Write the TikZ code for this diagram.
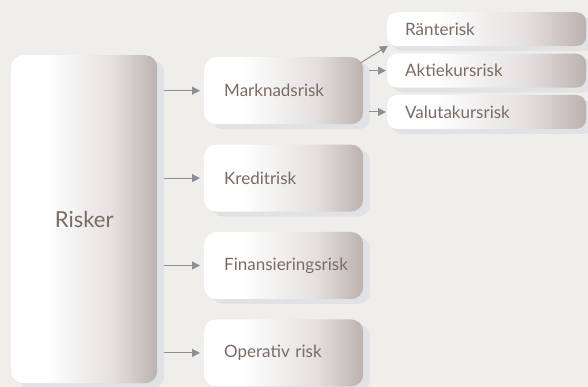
\documentclass[tikz,border=0pt]{standalone}
\usepackage{fontspec}
\setmainfont{Lato}
\definecolor{bgPage}{HTML}{EFEEEA}
\definecolor{boxDark}{HTML}{BCB2AF}
\definecolor{boxMid}{HTML}{E4E0DF}
\definecolor{shadowGray}{HTML}{E1E2E5}
\definecolor{textBrown}{HTML}{7B6B62}
\definecolor{arrowGray}{HTML}{8E8F95}
\usetikzlibrary{positioning, arrows.meta, shadows}
\pgfdeclarehorizontalshading{riskShade}{100bp}{color(0bp)=(white); color(25bp)=(white); color(37bp)=(white); color(60bp)=(boxMid); color(75bp)=(boxDark); color(100bp)=(boxDark)}

\begin{document}
\begin{tikzpicture}[x=1pt, y=1pt,
    riskbox/.style={shading=riskShade, rounded corners=12pt, text=textBrown,
      drop shadow={shadow xshift=7pt, shadow yshift=-5pt, fill=shadowGray, opacity=1}},
    mainbox/.style={riskbox, minimum width=159pt, minimum height=67pt, inner xsep=20pt,
      text width=119pt, align=left, font=\fontsize{17}{20}\selectfont},
    subbox/.style={riskbox, rounded corners=10pt, minimum width=199pt, minimum height=34pt,
      inner xsep=18pt, text width=163pt, align=left, font=\fontsize{17}{20}\selectfont,
      drop shadow={shadow xshift=4pt, shadow yshift=-4pt, fill=shadowGray, opacity=1}},
    arrowline/.style={draw=arrowGray, line width=1pt, -{Triangle[length=8pt, width=8pt]}}]
  \useasboundingbox[fill=bgPage] (0,0) rectangle (588,387);

  \node[riskbox, minimum width=146pt, minimum height=328pt, anchor=north west,
        font=\fontsize{22}{26}\selectfont] (risker) at (11,332) {Risker};

  \node[mainbox, anchor=north west] (markn) at (204,330) {Marknadsrisk};
  \node[mainbox, below=20pt of markn] (kredit) {Kreditrisk};
  \node[mainbox, below=20pt of kredit] (finans) {Finansieringsrisk};
  \node[mainbox, below=20pt of finans] (operativ) {Operativ risk};

  \node[subbox, anchor=north west] (ranta) at (387,375) {Ränterisk};
  \node[subbox, below=7pt of ranta] (aktie) {Aktiekursrisk};
  \node[subbox, below=7pt of aktie] (valuta) {Valutakursrisk};

  % Risker -> huvudrisker
  \foreach \n in {markn, kredit, finans, operativ}
    \draw[arrowline, shorten <=7pt, shorten >=4pt] (risker.east |- \n) -- (\n);

  % Marknadsrisk -> delrisker
  \draw[arrowline, shorten >=-1pt] ([xshift=-3pt, yshift=-6pt]markn.north east) -- (ranta.south west);
  \draw[arrowline, shorten <=6pt, shorten >=1pt] (markn.east |- aktie) -- (aktie);
  \draw[arrowline, shorten <=6pt, shorten >=1pt] (markn.east |- valuta) -- (valuta);
\end{tikzpicture}
\end{document}
